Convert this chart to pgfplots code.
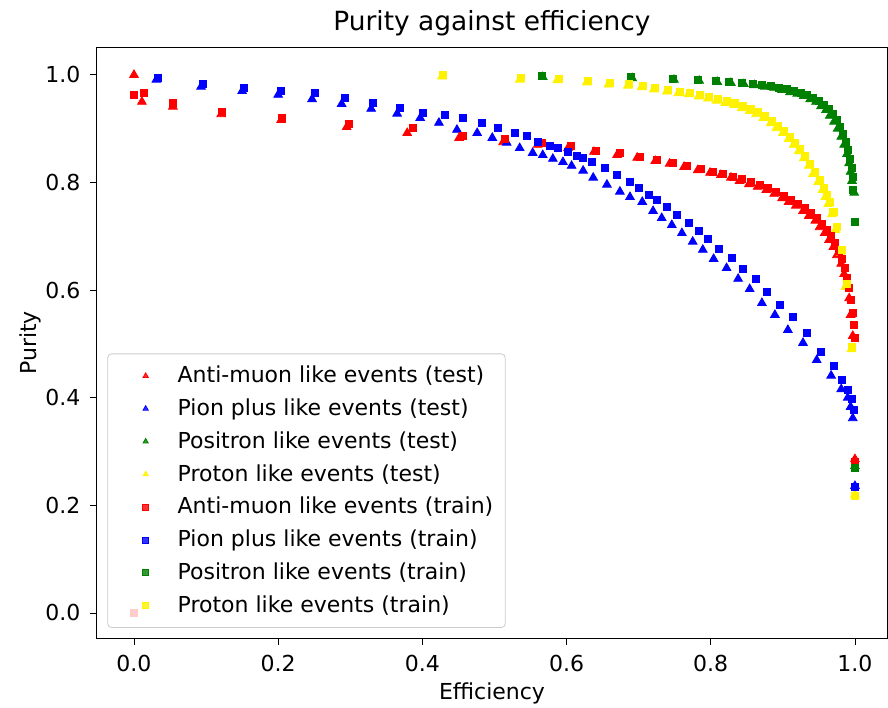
\documentclass[border=0pt]{standalone}
\usepackage{fontspec}
\setmainfont{DejaVu Sans}
\usepackage{pgfplots}
\pgfplotsset{compat=1.18}
\definecolor{mplgreen}{rgb}{0,0.5,0}
\begin{document}
\fontsize{11}{13}\selectfont
\begin{tikzpicture}
\begin{axis}[
  name=ax,
  scale only axis,
  width=395pt, height=295pt,
  xmin=-0.0513, xmax=1.0445, ymin=-0.0465, ymax=1.050,
  xtick={0,0.2,0.4,0.6,0.8,1.0},
  ytick={0,0.2,0.4,0.6,0.8,1.0},
  /pgf/number format/fixed,
  /pgf/number format/fixed zerofill,
  /pgf/number format/precision=1,
  /pgf/number format/assume math mode=true,
  tick align=outside, tick pos=left,
  major tick length=3.5pt,
  tick style={black, line width=0.4pt},
  tick label style={font=\fontsize{11}{13}\selectfont},
  xticklabel style={yshift=-1pt},
  yticklabel style={xshift=-1pt},
  axis line style={line width=0.5pt},
  title={Purity against efficiency},
  title style={font=\fontsize{13.2}{15}\selectfont, yshift=-4pt},
  xlabel={Efficiency}, ylabel={Purity},
  label style={font=\fontsize{11}{13}\selectfont},
  xlabel style={yshift=2pt},
  ylabel style={yshift=-5.5pt},
  legend style={at={(0.013,0.017)}, anchor=south west, draw=black!20, rounded corners=2pt,
    fill=white, fill opacity=0.8, text opacity=1, draw opacity=1,
    font=\fontsize{11}{13}\selectfont, row sep=2.4pt, inner xsep=4pt, inner ysep=4pt},
  legend cell align=left,
  legend image code/.code={\path[draw=none, fill=none] (0pt,0pt) -- (29pt,0pt); \draw[#1, draw=none, mark size=1.5pt] plot coordinates {(15pt,0pt)};},
]
% ---------------- test (triangles) ----------------
\addplot[only marks, mark=triangle*, mark size=2.5pt, color=red, mark options={draw=red, fill=red}] coordinates {
(0,1.0) (0.011,0.950) (0.054,0.941) (0.121,0.927) (0.204,0.916) (0.295,0.903) (0.379,0.892)
(0.451,0.883) (0.512,0.875) (0.560,0.870) (0.602,0.864) (0.638,0.857) (0.670,0.851) (0.698,0.846)
(0.723,0.840) (0.743,0.835) (0.763,0.829) (0.782,0.823) (0.799,0.818) (0.814,0.814) (0.828,0.809)
(0.840,0.803) (0.853,0.797) (0.865,0.792) (0.877,0.786) (0.888,0.779) (0.899,0.771) (0.908,0.764)
(0.918,0.757) (0.928,0.747) (0.936,0.738) (0.945,0.729) (0.951,0.717) (0.958,0.706) (0.964,0.693)
(0.970,0.680) (0.975,0.665) (0.981,0.649) (0.985,0.630) (0.989,0.610) (0.992,0.585) (0.994,0.554)
(0.997,0.515) (1.0,0.286)
};
\addlegendentry{Anti-muon like events (test)}
\addplot[only marks, mark=triangle*, mark size=2.5pt, color=blue, mark options={draw=blue, fill=blue}] coordinates {
(0.031,0.991) (0.093,0.978) (0.150,0.970) (0.200,0.963) (0.247,0.955) (0.288,0.946) (0.329,0.937)
(0.365,0.928) (0.397,0.920) (0.423,0.911) (0.448,0.898) (0.476,0.892) (0.497,0.883) (0.517,0.874)
(0.535,0.864) (0.553,0.855) (0.567,0.851) (0.581,0.844) (0.595,0.838) (0.607,0.831) (0.623,0.822)
(0.637,0.809) (0.656,0.796) (0.674,0.783) (0.688,0.773) (0.705,0.764) (0.720,0.747) (0.732,0.734)
(0.746,0.721) (0.760,0.706) (0.775,0.690) (0.789,0.675) (0.804,0.658) (0.822,0.641) (0.838,0.621)
(0.854,0.602) (0.871,0.576) (0.889,0.554) (0.907,0.526) (0.928,0.502) (0.947,0.470) (0.967,0.441)
(0.981,0.416) (0.990,0.400) (0.994,0.383) (0.997,0.362) (1.0,0.236)
};
\addlegendentry{Pion plus like events (test)}
\addplot[only marks, mark=triangle*, mark size=2.5pt, color=mplgreen, mark options={draw=mplgreen, fill=mplgreen}] coordinates {
(0.567,0.996) (0.691,0.994) (0.749,0.991) (0.784,0.989) (0.809,0.987) (0.828,0.985) (0.846,0.983)
(0.861,0.981) (0.875,0.978) (0.888,0.976) (0.899,0.972) (0.910,0.968) (0.920,0.965) (0.929,0.961)
(0.938,0.955) (0.946,0.950) (0.953,0.942) (0.960,0.935) (0.965,0.924) (0.971,0.913) (0.976,0.900)
(0.981,0.885) (0.985,0.870) (0.989,0.853) (0.992,0.836) (0.994,0.820) (0.996,0.803) (0.999,0.781)
(1.0,0.273)
};
\addlegendentry{Positron like events (test)}
\addplot[only marks, mark=triangle*, mark size=2.5pt, color=yellow, mark options={draw=yellow, fill=yellow}] coordinates {
(0.427,0.997) (0.535,0.991) (0.587,0.990) (0.628,0.986) (0.658,0.982) (0.685,0.980) (0.704,0.977)
(0.721,0.973) (0.739,0.969) (0.755,0.966) (0.769,0.964) (0.783,0.960) (0.796,0.956) (0.808,0.952)
(0.820,0.948) (0.832,0.944) (0.843,0.938) (0.854,0.933) (0.863,0.927) (0.873,0.920) (0.883,0.910)
(0.891,0.901) (0.900,0.892) (0.908,0.881) (0.915,0.870) (0.922,0.858) (0.929,0.845) (0.936,0.831)
(0.942,0.816) (0.949,0.801) (0.955,0.786) (0.959,0.773) (0.963,0.760) (0.968,0.741) (0.973,0.712)
(0.980,0.670) (0.987,0.606) (0.995,0.490) (1.0,0.220)
};
\addlegendentry{Proton like events (test)}
% ---------------- train (squares) ----------------
\addplot[only marks, mark=square*, mark size=1.8pt, color=red, mark options={draw=red, fill=red}] coordinates {
(0,0.963) (0.0139,0.967) (0.0541,0.948) (0.122,0.931) (0.205,0.920) (0.298,0.909) (0.387,0.901)
(0.456,0.887) (0.515,0.881) (0.565,0.874) (0.606,0.868) (0.641,0.859) (0.674,0.855) (0.702,0.848)
(0.725,0.842) (0.748,0.836) (0.767,0.831) (0.786,0.825) (0.803,0.819) (0.817,0.816) (0.831,0.810)
(0.843,0.807) (0.856,0.801) (0.868,0.796) (0.879,0.790) (0.890,0.783) (0.902,0.775) (0.911,0.768)
(0.921,0.760) (0.931,0.753) (0.939,0.743) (0.947,0.734) (0.954,0.723) (0.961,0.712) (0.967,0.701)
(0.972,0.688) (0.978,0.673) (0.982,0.658) (0.986,0.641) (0.989,0.623) (0.992,0.604) (0.994,0.582)
(0.997,0.558) (0.999,0.535) (1.0,0.511) (1.0,0.281) (0,0)
};
\addlegendentry{Anti-muon like events (train)}
\addplot[only marks, mark=square*, mark size=1.8pt, color=blue, mark options={draw=blue, fill=blue}] coordinates {
(0.033,0.994) (0.096,0.983) (0.153,0.976) (0.204,0.970) (0.251,0.967) (0.293,0.957) (0.331,0.948)
(0.369,0.939) (0.401,0.929) (0.431,0.926) (0.456,0.920) (0.483,0.911) (0.505,0.901) (0.528,0.892)
(0.545,0.887) (0.560,0.875) (0.577,0.868) (0.588,0.864) (0.602,0.857) (0.614,0.849) (0.623,0.846)
(0.635,0.838) (0.653,0.827) (0.670,0.814) (0.688,0.801) (0.700,0.790) (0.714,0.777) (0.725,0.768)
(0.739,0.755) (0.753,0.740) (0.770,0.725) (0.784,0.710) (0.796,0.695) (0.811,0.677) (0.829,0.660)
(0.845,0.639) (0.863,0.621) (0.878,0.597) (0.896,0.572) (0.914,0.550) (0.933,0.520) (0.953,0.485)
(0.971,0.459) (0.982,0.433) (0.990,0.414) (0.996,0.398) (0.999,0.377) (1.0,0.234)
};
\addlegendentry{Pion plus like events (train)}
\addplot[only marks, mark=square*, mark size=1.8pt, color=mplgreen, mark options={draw=mplgreen, fill=mplgreen}] coordinates {
(0.566,0.998) (0.689,0.996) (0.748,0.993) (0.782,0.991) (0.807,0.989) (0.825,0.987) (0.843,0.985)
(0.859,0.983) (0.871,0.981) (0.883,0.980) (0.895,0.976) (0.906,0.974) (0.915,0.970) (0.925,0.967)
(0.933,0.963) (0.942,0.957) (0.950,0.952) (0.957,0.944) (0.964,0.937) (0.969,0.928) (0.975,0.916)
(0.979,0.903) (0.983,0.890) (0.988,0.875) (0.990,0.861) (0.993,0.844) (0.996,0.827) (0.997,0.810)
(0.997,0.786) (1.0,0.727) (1.0,0.270)
};
\addlegendentry{Positron like events (train)}
\addplot[only marks, mark=square*, mark size=1.8pt, color=yellow, mark options={draw=yellow, fill=yellow}] coordinates {
(0.429,1.0) (0.537,0.994) (0.589,0.993) (0.630,0.989) (0.660,0.985) (0.687,0.983) (0.706,0.980)
(0.723,0.976) (0.741,0.972) (0.757,0.969) (0.771,0.967) (0.785,0.963) (0.798,0.959) (0.810,0.955)
(0.822,0.952) (0.834,0.948) (0.845,0.942) (0.856,0.937) (0.865,0.931) (0.875,0.924) (0.885,0.914)
(0.893,0.905) (0.902,0.896) (0.910,0.885) (0.917,0.874) (0.924,0.862) (0.931,0.849) (0.938,0.835)
(0.944,0.820) (0.951,0.805) (0.957,0.790) (0.961,0.777) (0.965,0.764) (0.970,0.745) (0.975,0.717)
(0.982,0.675) (0.989,0.612) (0.996,0.494) (1.0,0.217)
};
\addlegendentry{Proton like events (train)}
\end{axis}
\pgfresetboundingbox
\path ([shift={(-48.5pt,-34.5pt)}]ax.south west) rectangle ([shift={(0.5pt,24pt)}]ax.north east);
\end{tikzpicture}
\end{document}
